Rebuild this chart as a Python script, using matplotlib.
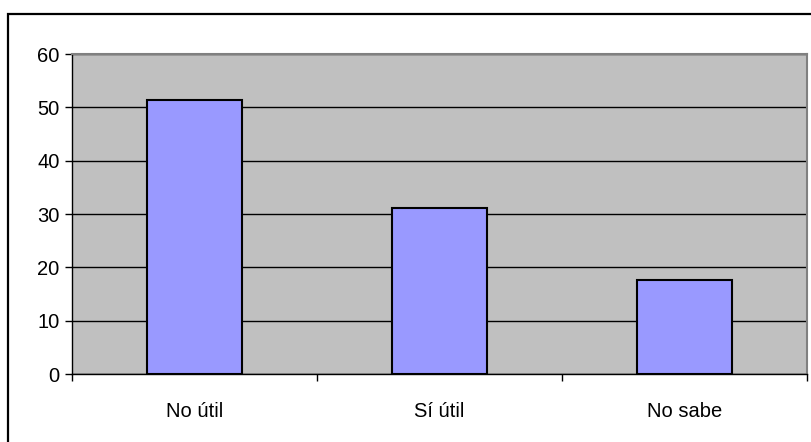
import matplotlib.pyplot as plt
from matplotlib.patches import Rectangle
from matplotlib.ticker import FixedLocator

plt.rcParams['font.family'] = ['Liberation Sans', 'DejaVu Sans']

categories = ['No útil', 'Sí útil', 'No sabe']
values = [51.4, 31.1, 17.6]

fig = plt.figure(figsize=(8.11, 4.42), dpi=100)
ax = fig.add_axes([72/811, 1 - 374/442, (807 - 72)/811, (374 - 54)/442])
ax.set_facecolor('#C0C0C0')

x = range(len(categories))
ax.bar(x, values, width=0.39, color='#9999FF', edgecolor='black', linewidth=1.5, zorder=3)

ax.set_xlim(-0.5, 2.5)
ax.set_ylim(0, 60)
ax.set_yticks(range(0, 61, 10))
ax.yaxis.grid(True, color='black', linewidth=1.0, zorder=1)
ax.set_axisbelow(True)

ax.set_xticks(list(x))
ax.set_xticklabels(categories)
ax.xaxis.set_minor_locator(FixedLocator([-0.5, 0.5, 1.5, 2.5]))
ax.tick_params(axis='x', which='major', length=0, pad=20, labelsize=14.5)
ax.tick_params(axis='x', which='minor', length=5, width=1, color='black')
ax.tick_params(axis='y', length=5, width=1, pad=4, labelsize=14.5)

for side in ['top', 'right']:
    ax.spines[side].set_color('#808080')
    ax.spines[side].set_linewidth(1.5)
for side in ['left', 'bottom']:
    ax.spines[side].set_color('black')
    ax.spines[side].set_linewidth(1.0)

# outer chart border
fig.patches.append(Rectangle((8/811, -0.1), 1.0, 1.1 - 14/442,
                             transform=fig.transFigure, fill=False,
                             edgecolor='black', linewidth=1.6))

fig.savefig('out.png', dpi=100)
